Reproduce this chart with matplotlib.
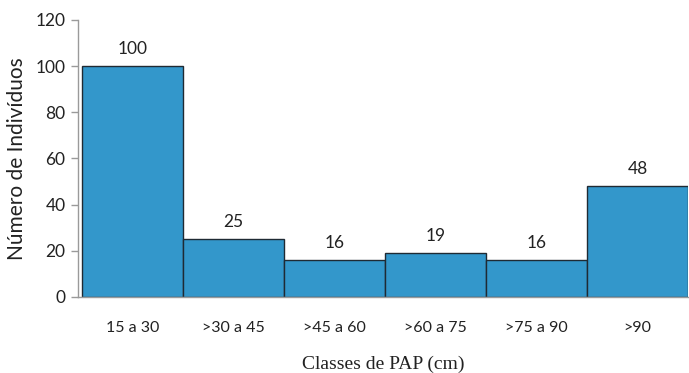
import matplotlib
matplotlib.use("Agg")
import matplotlib.pyplot as plt

categories = ["15 a 30", ">30 a 45", ">45 a 60", ">60 a 75", ">75 a 90", ">90"]
counts = [100, 25, 16, 19, 16, 48]
y_ticks = [0, 20, 40, 60, 80, 100, 120]

sans = ["Lato", "DejaVu Sans"]
serif = ["Liberation Serif", "DejaVu Serif"]

fig = plt.figure(figsize=(6.89, 3.73), dpi=100)
ax = fig.add_axes([0.1132, 0.2038, 0.8853, 0.7426])

x = range(len(categories))
bars = ax.bar(x, counts, width=1.0, color="#3397CB", edgecolor="#1f2a33", linewidth=1.0)

for xi, v in zip(x, counts):
    ax.text(xi, v + 4, str(v), ha="center", va="bottom", fontsize=12.5, family=sans, color="#222222")

ax.set_xlim(-0.54, 5.5)
ax.set_ylim(0, 120)
ax.set_yticks(y_ticks)
ax.set_yticklabels([str(t) for t in y_ticks], family=sans, fontsize=12.5, color="#222222")
ax.set_xticks(list(x))
ax.set_xticklabels(categories, family=sans, fontsize=11.5, color="#222222")
ax.tick_params(axis="x", length=0, pad=17)
ax.tick_params(axis="y", length=5, color="#9a9a9a", width=1, pad=4)

for s in ("top", "right"):
    ax.spines[s].set_visible(False)
for s in ("left", "bottom"):
    ax.spines[s].set_color("#9a9a9a")
    ax.spines[s].set_linewidth(1.0)

ax.set_ylabel("Número de Indivíduos", family=sans, fontsize=15, color="#222222", labelpad=6)
ax.set_xlabel("Classes de PAP (cm)", family=serif, fontsize=14, color="#222222", labelpad=15)

fig.savefig("out.png", dpi=100)
